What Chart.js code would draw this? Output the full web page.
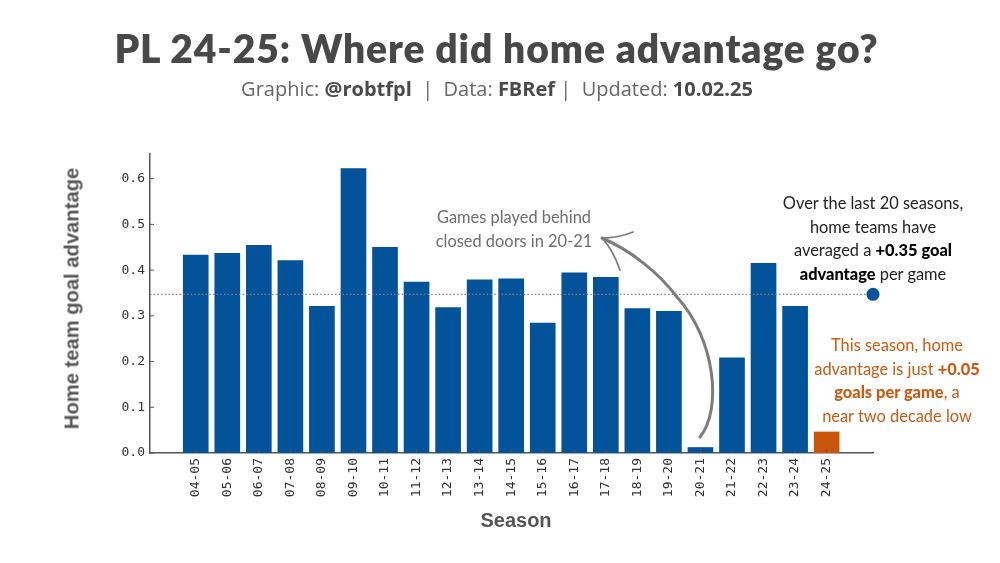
<!DOCTYPE html>
<html>
<head>
<meta charset="utf-8">
<script src="https://cdn.jsdelivr.net/npm/chart.js@4"></script>
<style>
  html, body { margin: 0; background: #fff; }
  #wrap { position: relative; width: 1000px; height: 563px; overflow: hidden; }
  #wrap canvas { position: absolute; left: 0; top: 0; }
  .txt { position: absolute; text-align: center; white-space: nowrap; }
  #title { left: 0; width: 993px; top: 25px; font: 800 39px Lato; color: #484848; letter-spacing: 0.9px; }
  #sub { left: 0; width: 994px; top: 75px; font: 400 20px "Open Sans"; color: #666; }
  #sub b { color: #4a4a4a; }
  .note { font: 400 16.4px/23.5px Lato; }
  #doors { left: 414px; width: 200px; top: 205px; color: #6e6e6e; }
  #avg { left: 763px; width: 220px; top: 191px; color: #222; }
  #avg b { color: #000; font-weight: 900; }
  #now { left: 787px; width: 220px; top: 333px; color: #cc5a12; }
  #now b { font-weight: 900; }
  .axis { font: 700 20px "Liberation Sans"; color: #555; }
  #xname { left: 416px; width: 200px; top: 509px; }
  #yname { left: -78px; width: 300px; top: 287px; transform: rotate(-90deg); font-size: 20.2px; }
</style>
</head>
<body>
<div id="wrap">
  <canvas id="homeChart" width="1000" height="563"></canvas>
  <div class="txt" id="title">PL 24-25: Where did home advantage go?</div>
  <div class="txt" id="sub">Graphic: <b>@robtfpl</b> &nbsp;|&nbsp; Data: <b>FBRef</b> | &nbsp;Updated: <b>10.02.25</b></div>
  <div class="txt note" id="doors">Games played behind<br>closed doors in 20-21</div>
  <div class="txt note" id="avg">Over the last 20 seasons,<br>home teams have<br>averaged a <b>+0.35 goal</b><br><b>advantage</b> per game</div>
  <div class="txt note" id="now">This season, home<br>advantage is just <b>+0.05</b><br><b>goals per game</b>, a<br>near two decade low</div>
  <div class="txt axis" id="xname">Season</div>
  <div class="txt axis" id="yname">Home team goal advantage</div>
</div>
<script>
const seasons = ['04-05','05-06','06-07','07-08','08-09','09-10','10-11','11-12','12-13','13-14','14-15',
                 '15-16','16-17','17-18','18-19','19-20','20-21','21-22','22-23','23-24','24-25'];
const advantage = [0.433,0.437,0.454,0.421,0.321,0.622,0.450,0.374,0.318,0.379,0.381,
                   0.284,0.394,0.384,0.316,0.310,0.012,0.208,0.415,0.321,0.046];
const average = 0.347;
const yTicks = [0,0.1,0.2,0.3,0.4,0.5,0.6];

const BLUE = '#02539a';
const ORANGE = '#c9560b';
const AXIS = '#555555';
const xMin = -1.45, xMax = 21.47;

// inward tick marks, chart.js only draws them outward
const innerTicks = {
  id: 'innerTicks',
  afterDatasetsDraw(chart) {
    const c = chart.ctx, a = chart.chartArea;
    c.save();
    c.strokeStyle = AXIS;
    c.lineWidth = 1;
    chart.scales.y.ticks.forEach(t => {
      const y = chart.scales.y.getPixelForValue(t.value);
      c.beginPath(); c.moveTo(a.left, y); c.lineTo(a.left + 4, y); c.stroke();
    });
    chart.scales.x.ticks.forEach(t => {
      const x = chart.scales.x.getPixelForValue(t.value);
      c.beginPath(); c.moveTo(x, a.bottom); c.lineTo(x, a.bottom - 4); c.stroke();
    });
    c.restore();
  }
};

// hand drawn arrow to the 20-21 bar
const arrow = {
  id: 'arrow',
  afterDraw(chart) {
    const c = chart.ctx;
    c.save();
    c.strokeStyle = '#7c7c7c';
    c.lineCap = 'round';
    c.lineWidth = 3;
    c.beginPath();
    c.moveTo(700, 437);
    c.bezierCurveTo(722, 410, 716, 340, 677, 297);
    c.bezierCurveTo(658, 272, 630, 250, 602, 238);
    c.stroke();
    c.lineWidth = 1.8;
    c.beginPath();
    c.moveTo(602, 238);
    c.quadraticCurveTo(618, 238, 633, 232);
    c.moveTo(602, 238);
    c.quadraticCurveTo(613, 250, 620, 270);
    c.stroke();
    c.restore();
  }
};

new Chart(document.getElementById('homeChart'), {
  data: {
    datasets: [
      {
        type: 'line',
        data: [{x: xMin, y: average}, {x: xMax, y: average}],
        borderColor: '#808080',
        borderWidth: 1.2,
        borderDash: [1.5, 2.2],
        pointRadius: [0, 6.5],
        pointBackgroundColor: BLUE,
        pointBorderWidth: 0,
        clip: false,
        order: 0
      },
      {
        type: 'bar',
        data: seasons.map((s, i) => ({x: i, y: advantage[i]})),
        backgroundColor: seasons.map(s => s === '24-25' ? ORANGE : BLUE),
        barThickness: 25,
        order: 1
      }
    ]
  },
  options: {
    responsive: false,
    animation: false,
    layout: { padding: { top: 154, right: 127 } },
    plugins: { legend: { display: false }, tooltip: { enabled: false } },
    scales: {
      x: {
        type: 'linear',
        offset: false,
        min: xMin,
        max: xMax,
        afterFit: s => { s.height = 110; },
        afterBuildTicks: s => { s.ticks = seasons.map((_, i) => ({value: i})); },
        grid: { display: false },
        border: { color: AXIS, width: 1.5 },
        ticks: {
          autoSkip: false,
          minRotation: 90,
          maxRotation: 90,
          padding: -3,
          color: '#333',
          font: { family: '"DejaVu Sans Mono"', size: 13 },
          callback: v => seasons[v]
        }
      },
      y: {
        min: 0,
        max: 0.654,
        afterFit: s => { s.width = 150; },
        afterBuildTicks: s => { s.ticks = yTicks.map(v => ({value: v})); },
        grid: { display: false },
        border: { color: AXIS, width: 1.5 },
        ticks: {
          padding: -3,
          color: '#333',
          font: { family: '"DejaVu Sans Mono"', size: 13 },
          callback: v => v.toFixed(1)
        }
      }
    }
  },
  plugins: [innerTicks, arrow]
});
</script>
</body>
</html>
